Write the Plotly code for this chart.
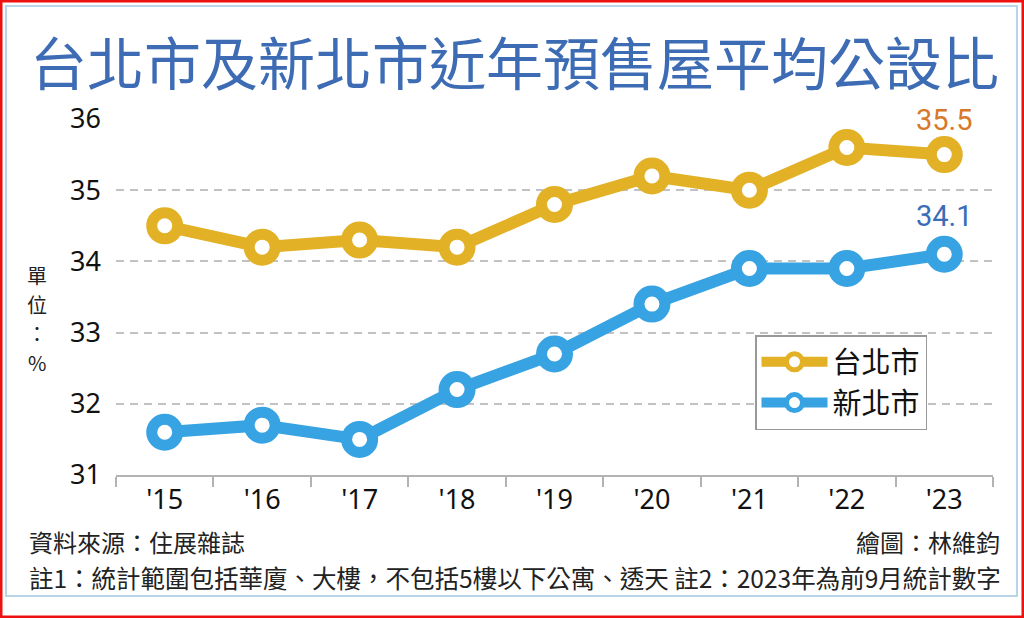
import plotly.graph_objects as go

# data
years = ["'15", "'16", "'17", "'18", "'19", "'20", "'21", "'22", "'23"]
taipei = [34.5, 34.2, 34.3, 34.2, 34.8, 35.2, 35.0, 35.6, 35.5]
new_taipei = [31.6, 31.7, 31.5, 32.2, 32.7, 33.4, 33.9, 33.9, 34.1]
series_names = ["台北市", "新北市"]
y_ticks = [31, 32, 33, 34, 35, 36]
unit_chars = ["單", "位", "：", "%"]

W, H = 1024, 618
L, R, T, B = 116, 31, 119, 143
CJK = "Noto Sans CJK TC"

GOLD = "#e2b125"
BLUE = "#37a3e2"


def px_x(px):
    return (px - L) / (W - L - R)


def px_y(py):
    return (H - B - py) / (H - T - B)


fig = go.Figure()


def add_series(values, name, color):
    fig.add_trace(go.Scatter(
        x=years, y=values, name=name, mode='lines+markers',
        line={'color': color, 'width': 12},
        marker={'size': 26, 'color': 'white',
                'line': {'color': color, 'width': 11}},
        cliponaxis=False,
    ))


add_series(taipei, series_names[0], GOLD)
add_series(new_taipei, series_names[1], BLUE)

annotations = [
    # last values
    dict(x=years[-1], y=taipei[-1], xref='x', yref='y', text=str(taipei[-1]),
         showarrow=False, yshift=35,
         font={'family': 'Roboto', 'size': 29, 'color': '#d8782a'}),
    dict(x=years[-1], y=new_taipei[-1], xref='x', yref='y', text=str(new_taipei[-1]),
         showarrow=False, yshift=38,
         font={'family': 'Roboto', 'size': 29, 'color': '#3b6db6'}),
    # title
    dict(x=px_x(514), y=px_y(60), xref='paper', yref='paper',
         text='台北市及新北市近年預售屋平均公設比', showarrow=False,
         xanchor='center', yanchor='middle',
         font={'family': CJK, 'size': 57, 'color': '#3d6cb5'}),
    # footer
    dict(x=px_x(28), y=px_y(541), xref='paper', yref='paper',
         text='資料來源：住展雜誌', showarrow=False,
         xanchor='left', yanchor='middle', borderpad=0,
         font={'family': CJK, 'size': 24, 'color': '#222'}),
    dict(x=px_x(1001), y=px_y(541), xref='paper', yref='paper',
         text='繪圖：林維鈞', showarrow=False,
         xanchor='right', yanchor='middle', borderpad=0,
         font={'family': CJK, 'size': 24, 'color': '#222'}),
    dict(x=px_x(28), y=px_y(577), xref='paper', yref='paper',
         text='註1：統計範圍包括華廈、大樓，不包括5樓以下公寓、透天 註2：2023年為前9月統計數字',
         showarrow=False, xanchor='left', yanchor='middle', borderpad=0,
         font={'family': CJK, 'size': 24.5, 'color': '#222'}),
]

# unit label, one character per line
for i, ch in enumerate(unit_chars):
    annotations.append(dict(
        x=px_x(37), y=px_y(275 + 29 * i), xref='paper', yref='paper',
        text=ch, showarrow=False, xanchor='center', yanchor='middle',
        borderpad=0, font={'family': CJK, 'size': 20, 'color': '#222'}))

shapes = [
    # light blue frame
    dict(type='rect', xref='paper', yref='paper',
         x0=px_x(6), x1=px_x(1017), y0=px_y(6), y1=px_y(596),
         line={'color': '#b7d5e6', 'width': 2}, layer='below'),
    # red outer border
    dict(type='rect', xref='paper', yref='paper',
         x0=px_x(1), x1=px_x(1023), y0=px_y(1), y1=px_y(617),
         line={'color': '#ee1111', 'width': 3}, layer='above'),
]

fig.update_layout(
    width=W, height=H,
    margin={'l': L, 'r': R, 't': T, 'b': B},
    paper_bgcolor='white', plot_bgcolor='white',
    showlegend=True,
    legend={'x': px_x(755), 'y': px_y(335), 'xanchor': 'left', 'yanchor': 'top',
            'bordercolor': '#999999', 'borderwidth': 1.5, 'bgcolor': 'white',
            'font': {'family': CJK, 'size': 29, 'color': '#111'},
            'itemwidth': 66, 'tracegroupgap': 0},
    annotations=annotations,
    shapes=shapes,
    xaxis={'type': 'category', 'range': [-0.5, 8.5],
           'showline': True, 'linecolor': '#b3b3b3', 'linewidth': 2,
           'ticks': 'outside', 'tickson': 'boundaries', 'ticklen': 10,
           'tickwidth': 2, 'tickcolor': '#b3b3b3', 'showgrid': False,
           'tickfont': {'family': 'Noto Sans', 'size': 27, 'color': '#111'}},
    yaxis={'range': [31, 36], 'tickvals': y_ticks, 'showline': False,
           'showgrid': True, 'gridcolor': '#c2c2c2', 'gridwidth': 2,
           'griddash': '8px,6px', 'zeroline': False,
           'ticklabelstandoff': 14,
           'tickfont': {'family': 'Noto Sans', 'size': 27, 'color': '#111'}},
)

# drop the page's default body margin so the figure sits at the window corner
fig.write_html("out.html", config={'displayModeBar': False},
               post_script="document.body.style.margin='0';")
